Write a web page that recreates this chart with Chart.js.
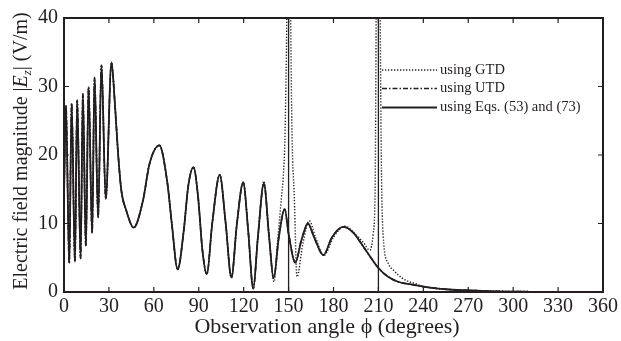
<!DOCTYPE html>
<html>
<head>
<meta charset="utf-8">
<script src="https://cdn.jsdelivr.net/npm/chart.js@4/dist/chart.umd.min.js"></script>
<style>
  html, body { margin: 0; padding: 0; background: #fff; }
  #wrap { width: 621px; height: 341px; }
</style>
</head>
<body>
<div id="wrap"><canvas id="chart"></canvas></div>
<script>
// angle (degrees) / field magnitude (V/m)
const anglesEq = [0, 1.3, 3.5, 5.1, 7.3, 8.8, 11.1, 12.6, 14.6, 16.4, 18.8, 20.4, 22.8, 25, 27.9, 31.7, 33.9, 36, 38.3, 41.6,
  46.5, 52.7, 57.1, 63.7, 69, 72, 75.9, 80, 83, 86.5, 89.5, 92.5, 95.4, 99, 104, 108, 111.8, 115.5, 119.7, 123,
  126.4, 129.5, 133.5, 137, 140, 143.5, 147.4, 150, 154.5, 158.5, 162.9, 167, 173.3, 179, 186.6, 193, 200, 205, 210, 216,
  223, 232, 240, 255, 270, 290, 310];
const valuesEq = [14, 27.2, 4.2, 27.5, 4.4, 28.0, 4.9, 28.9, 6.7, 29.9, 8.6, 31.3, 10.9, 33.1, 13.6, 33.5, 27.8, 20.6, 14.8, 11.9,
  9.4, 13.3, 18.7, 21.4, 16, 10, 3.3, 9, 15.5, 18.2, 14, 6, 2.6, 10, 17.1, 10, 2.1, 10, 16.0, 9,
  0.5, 8, 15.8, 8, 2.0, 8, 12.1, 8.5, 4.3, 7.5, 10.0, 8, 5.4, 8, 9.5, 8.7, 6.6, 5.0, 3.5, 2.3,
  1.5, 1.1, 0.8, 0.4, 0.25, 0.1, 0.05];

const anglesGtd = [0, 1.3, 3.5, 5.1, 7.3, 8.8, 11.1, 12.6, 14.6, 16.4, 18.8, 20.4, 22.8, 25, 27.9, 31.7, 33.9, 36, 38.3, 41.6,
  46.5, 52.7, 57.1, 63.7, 69, 72, 75.9, 80, 83, 86.5, 89.5, 92.5, 95.4, 99, 104, 108, 111.8, 115.5, 119.7, 123,
  126.4, 129.5, 133.5, 137, 140.3, 142.5, 145.2, 146.5, 147.5, 148.2, 148.8, 150, 151.4, 152.3, 153.8, 155.6, 159.5, 163.8, 168, 173.5,
  180, 187.7, 194, 200, 204.3, 206.5, 207.8, 208.5, 210, 211.2, 212, 213.1, 216.5, 220, 227.5, 235, 240, 255, 270, 290, 310];
const valuesGtd = [14, 27.2, 4.2, 27.5, 4.4, 28.0, 4.9, 28.9, 6.7, 29.9, 8.6, 31.3, 10.9, 33.1, 13.6, 33.5, 27.8, 20.6, 14.8, 11.9,
  9.4, 13.3, 18.7, 21.4, 16, 10, 3.3, 9, 15.5, 18.2, 14, 6, 2.6, 10, 17.1, 10, 2.1, 10, 16.0, 9,
  0.5, 8, 16.2, 8, 1.5, 7, 13.7, 17, 22, 30, 40, 80, 40, 23, 14, 2.2, 7, 10.4, 8, 5.3,
  8, 9.6, 8.6, 7.2, 6.1, 8.5, 15, 40, 80, 40, 18, 8.5, 4.2, 3.2, 1.8, 1.2, 0.8, 0.4, 0.25, 0.12, 0.05];

// UTD curve coincides with the Eqs. (53)/(73) curve at this scale
const anglesUtd = anglesEq;
const valuesUtd = valuesEq;

const shadowAngles = [150, 210];

const xTicks = [0, 30, 60, 90, 120, 150, 180, 210, 240, 270, 300, 330, 360];
const yTicks = [0, 10, 20, 30, 40];

const legendLabels = ['using GTD', 'using UTD', 'using Eqs. (53) and (73)'];

const ink = '#231f20';
const serif = '"Liberation Serif", "DejaVu Serif", serif';

function toPoints(xs, ys) {
  return xs.map((v, i) => ({ x: v, y: ys[i] }));
}

const boundaryPoints = [];
shadowAngles.forEach(a => {
  boundaryPoints.push({ x: a, y: yTicks[0] }, { x: a, y: yTicks[yTicks.length - 1] }, { x: a, y: null });
});

const decorations = {
  id: 'decorations',
  afterDraw(chart) {
    const { ctx, chartArea: a, scales: { x, y } } = chart;
    ctx.save();
    ctx.strokeStyle = ink;
    ctx.fillStyle = ink;

    // frame
    ctx.lineWidth = 2;
    ctx.strokeRect(a.left, a.top, a.right - a.left, a.bottom - a.top);

    // inward ticks on all four sides
    ctx.lineWidth = 1.2;
    ctx.beginPath();
    xTicks.slice(1, -1).forEach(v => {
      const px = x.getPixelForValue(v);
      ctx.moveTo(px, a.bottom); ctx.lineTo(px, a.bottom - 5);
      ctx.moveTo(px, a.top); ctx.lineTo(px, a.top + 5);
    });
    yTicks.slice(1, -1).forEach(v => {
      const py = y.getPixelForValue(v);
      ctx.moveTo(a.left, py); ctx.lineTo(a.left + 5, py);
      ctx.moveTo(a.right, py); ctx.lineTo(a.right - 5, py);
    });
    ctx.stroke();

    // x title
    ctx.font = '22px ' + serif;
    ctx.textAlign = 'center';
    ctx.textBaseline = 'alphabetic';
    ctx.fillText('Observation angle \u03d5 (degrees)', 327, 333);

    // y title with italic E and subscript z
    const parts = [
      { t: 'Electric field magnitude |', f: '20px ' + serif, dy: 0 },
      { t: 'E', f: 'italic 20px ' + serif, dy: 0 },
      { t: 'z', f: 'italic 13px ' + serif, dy: 4 },
      { t: '| (V/m)', f: '20px ' + serif, dy: 0 }
    ];
    let total = 0;
    parts.forEach(p => { ctx.font = p.f; p.w = ctx.measureText(p.t).width; total += p.w; });
    ctx.translate(27, 151);
    ctx.rotate(-Math.PI / 2);
    ctx.textAlign = 'left';
    let cx = -total / 2;
    parts.forEach(p => { ctx.font = p.f; ctx.fillText(p.t, cx, p.dy); cx += p.w; });
    ctx.setTransform(1, 0, 0, 1, 0, 0);

    // legend inside the plot
    const styles = [
      { dash: [1.3, 1.7], w: 1.4 },
      { dash: [5, 2, 1.5, 2], w: 1.7 },
      { dash: [], w: 1.9 }
    ];
    const rows = [70, 88.5, 107.5];
    ctx.font = '14.5px ' + serif;
    ctx.textAlign = 'left';
    ctx.textBaseline = 'middle';
    legendLabels.forEach((lab, i) => {
      ctx.beginPath();
      ctx.setLineDash(styles[i].dash);
      ctx.lineWidth = styles[i].w;
      ctx.moveTo(382, rows[i]);
      ctx.lineTo(437, rows[i]);
      ctx.stroke();
      ctx.setLineDash([]);
      ctx.fillText(lab, 440, rows[i]);
    });
    ctx.restore();
  }
};

new Chart(document.getElementById('chart'), {
  type: 'line',
  data: {
    datasets: [
      {
        label: legendLabels[2],
        data: toPoints(anglesEq, valuesEq),
        borderColor: ink,
        borderWidth: 1.8,
        cubicInterpolationMode: 'monotone',
        pointRadius: 0,
        order: 0
      },
      {
        label: 'shadow boundaries',
        data: boundaryPoints,
        borderColor: ink,
        borderWidth: 1.3,
        pointRadius: 0,
        spanGaps: false,
        order: 1
      },
      {
        label: legendLabels[1],
        data: toPoints(anglesUtd, valuesUtd),
        borderColor: ink,
        borderWidth: 1.6,
        borderDash: [5, 2, 1.5, 2],
        cubicInterpolationMode: 'monotone',
        pointRadius: 0,
        order: 2
      },
      {
        label: legendLabels[0],
        data: toPoints(anglesGtd, valuesGtd),
        borderColor: ink,
        borderWidth: 1.4,
        borderDash: [1.3, 1.7],
        cubicInterpolationMode: 'monotone',
        pointRadius: 0,
        order: 3
      }
    ]
  },
  options: {
    responsive: true,
    maintainAspectRatio: false,
    animation: false,
    layout: { padding: { left: 0, top: 16, right: 15, bottom: 0 } },
    plugins: {
      legend: { display: false },
      tooltip: { enabled: false }
    },
    scales: {
      x: {
        type: 'linear',
        min: 0,
        max: 360,
        afterFit: s => { s.height = 49; },
        afterBuildTicks: s => { s.ticks = xTicks.map(v => ({ value: v })); },
        grid: { display: false, drawTicks: false },
        border: { display: false },
        ticks: { font: { family: serif, size: 20 }, color: ink, padding: 3, maxRotation: 0 }
      },
      y: {
        type: 'linear',
        min: 0,
        max: 40,
        afterFit: s => { s.width = 64; },
        afterBuildTicks: s => { s.ticks = yTicks.map(v => ({ value: v })); },
        grid: { display: false, drawTicks: false },
        border: { display: false },
        ticks: { font: { family: serif, size: 20 }, color: ink, padding: 6 }
      }
    }
  },
  plugins: [decorations]
});
</script>
</body>
</html>
